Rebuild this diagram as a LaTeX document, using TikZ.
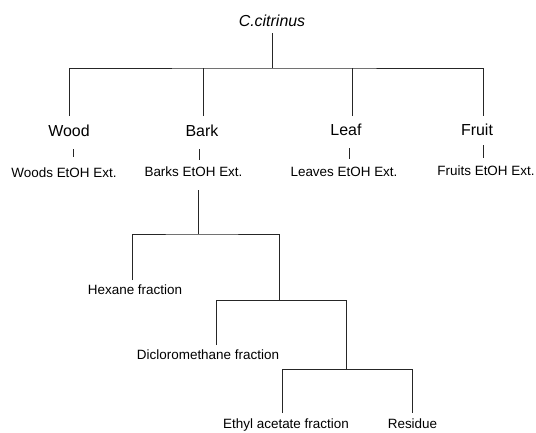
\documentclass[tikz,border=0pt]{standalone}
\usepackage{fontspec}
\setmainfont{Liberation Sans}
\begin{document}
\begin{tikzpicture}[x=1bp,y=-1bp,
  big/.style={font=\fontsize{16}{18}\selectfont, inner sep=0pt, anchor=base},
  lbl/.style={font=\fontsize{13.5}{16}\selectfont, inner sep=0pt, anchor=base},
  link/.style={draw=black!85, line width=0.8pt}]
\useasboundingbox (0,0) rectangle (536,432);
% text nodes
\node[big] (root) at (272,26) {\itshape C.citrinus};
\node[big] (wood) at (69,136) {Wood};
\node[big] (bark) at (202,136) {Bark};
\node[big] (leaf) at (346,135) {Leaf};
\node[big] (fruit) at (477,135) {Fruit};
\node[lbl] (woodx) at (64,177) {Woods EtOH Ext.};
\node[lbl] (barkx) at (193.5,176) {Barks EtOH Ext.};
\node[lbl] (leafx) at (344,176) {Leaves EtOH Ext.};
\node[lbl] (fruitx) at (486,175) {Fruits EtOH Ext.};
\node[lbl] (hex) at (135,294) {Hexane fraction};
\node[lbl] (dcm) at (208,359) {Dicloromethane fraction};
\node[lbl] (ea) at (286,428.5) {Ethyl acetate fraction};
\node[lbl] (res) at (412.5,428.5) {Residue};
% junction coordinates
\coordinate (r0) at (272,33);
\coordinate (r1) at (272,68);
\coordinate (w0) at (69,116);
\coordinate (b0) at (203,116);
\coordinate (l0) at (352,116);
\coordinate (f0) at (483,116);
\coordinate (wt0) at (73,149);  \coordinate (wt1) at (73,157);
\coordinate (bt0) at (199,149); \coordinate (bt1) at (199,160);
\coordinate (lt0) at (349,148); \coordinate (lt1) at (349,159);
\coordinate (ft0) at (483,145); \coordinate (ft1) at (483,158);
\coordinate (s0) at (198,190);
\coordinate (s1) at (198,234);
\coordinate (h0) at (132,280);
\coordinate (s2) at (279,300);
\coordinate (d0) at (216,345);
\coordinate (s3) at (346,369);
\coordinate (e0) at (282,413);
\coordinate (q0) at (412,413);
% connectors
\draw[link] (r0) -- (r1);
\draw[link] (w0) |- (r1) -| (f0);
\draw[link] (b0) -- (b0 |- r1);
\draw[link] (l0) -- (l0 |- r1);
\draw[link] (wt0) -- (wt1);
\draw[link] (bt0) -- (bt1);
\draw[link] (lt0) -- (lt1);
\draw[link] (ft0) -- (ft1);
\draw[link] (s0) -- (s1);
\draw[link] (h0) |- (s1) -| (s2);
\draw[link] (d0) |- (s2) -| (s3);
\draw[link] (e0) |- (s3) -| (q0);
\end{tikzpicture}
\end{document}
